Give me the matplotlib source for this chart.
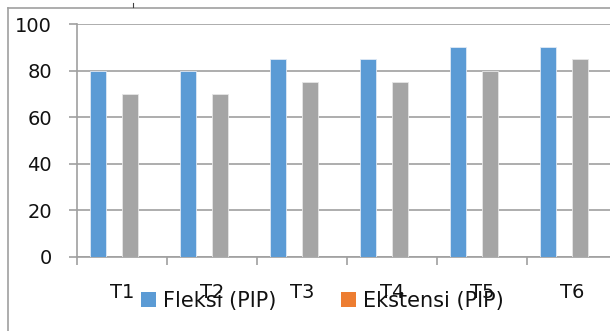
import numpy as np
import matplotlib
matplotlib.use("Agg")
import matplotlib.pyplot as plt
from matplotlib.patches import Patch
from matplotlib.lines import Line2D

kategori = ['T1', 'T2', 'T3', 'T4', 'T5', 'T6']
fleksi = [80, 80, 85, 85, 90, 90]
ekstensi = [0, 0, 0, 0, 0, 0]
seri3 = [70, 70, 75, 75, 80, 85]
seri4 = [0, 0, 0, 0, 0, 0]
yticks = [0, 20, 40, 60, 80, 100]

biru = '#5B9BD5'
oranye = '#ED7D31'
abu = '#A5A5A5'
garis = '#A0A0A0'

plt.rcParams['font.family'] = ['DejaVu Sans']

fig = plt.figure(figsize=(6.10, 3.31), dpi=100)
ax = fig.add_axes([77/610, 1-257/331, 540/610, 233/331])

x = np.arange(len(kategori))
w = 16/90
for i, (vals, col) in enumerate([(fleksi, biru), (ekstensi, oranye), (seri3, abu), (seri4, '#FFC000')]):
    ax.bar(x + (i - 1.5)*w, vals, width=w, color=col, edgecolor='#dfe9f5' if i == 0 else '#e6e6e6',
           linewidth=0.6, zorder=3)

ax.set_xlim(-0.5, len(kategori)-0.5)
ax.set_ylim(0, 100)
ax.set_yticks(yticks)
ax.set_yticklabels([str(v) for v in yticks], fontsize=14, color='#111111')
ax.yaxis.grid(True, color=garis, linewidth=1.2, zorder=0)
ax.set_xticks(x)
ax.set_xticklabels(kategori, fontsize=14, color='#111111')
ax.set_xticks(np.arange(-0.5, len(kategori)), minor=True)
ax.tick_params(axis='x', which='major', length=0, pad=19)
ax.tick_params(axis='x', which='minor', length=6, width=1.2, color=garis)
ax.tick_params(axis='y', length=6, width=1.2, color=garis, pad=12)
for s in ['top', 'right']:
    ax.spines[s].set_visible(False)
ax.spines['left'].set_color(garis)
ax.spines['left'].set_linewidth(1.2)
ax.spines['bottom'].set_color(garis)
ax.spines['bottom'].set_linewidth(1.2)

handles = [Patch(facecolor=biru, label='Fleksi (PIP)'), Patch(facecolor=oranye, label='Ekstensi (PIP)')]
fig.legend(handles=handles, loc='center', bbox_to_anchor=(322.5/610, 1-301/331), ncol=2, frameon=False,
           fontsize=15, handlelength=0.72, handleheight=0.72, handletextpad=0.34, columnspacing=3.07,
           labelcolor='#111111')

# bingkai luar
fig.add_artist(Line2D([7.5/610, 1], [1-7.5/331, 1-7.5/331], color=garis, linewidth=1.2))
fig.add_artist(Line2D([7.5/610, 7.5/610], [0, 1-7.5/331], color=garis, linewidth=1.2))
fig.add_artist(Line2D([133/610, 133/610], [1-3/331, 1-7/331], color='#404040', linewidth=0.8))

fig.savefig('out.png', dpi=100)
